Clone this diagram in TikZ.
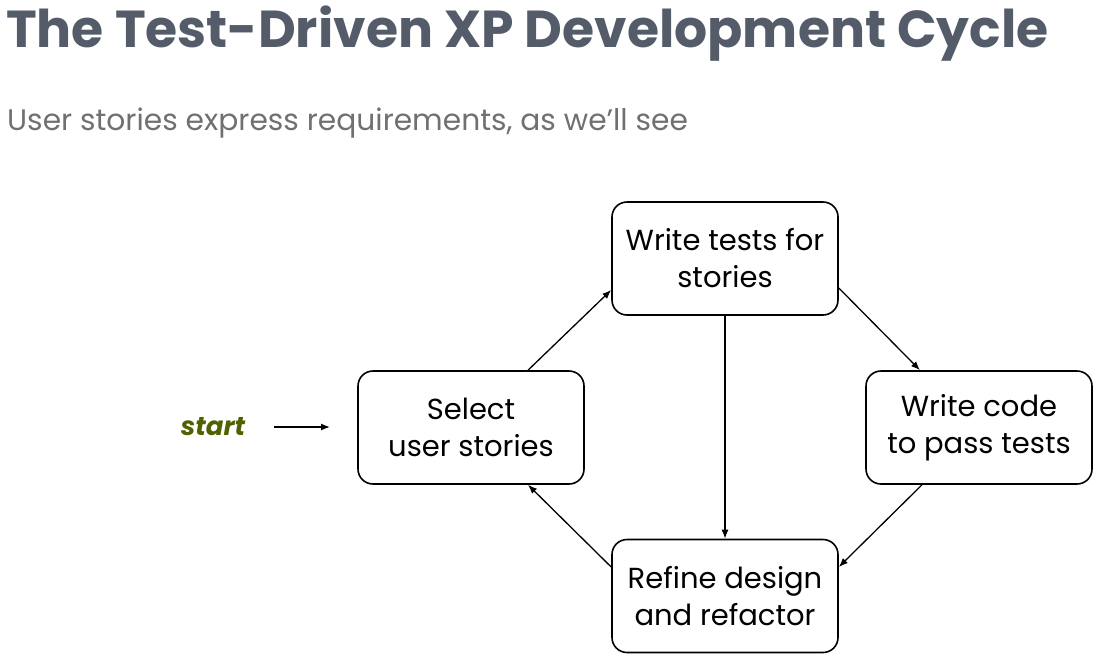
\documentclass[tikz,border=0pt]{standalone}
\usepackage{fontspec}
\setmainfont{Poppins}
\usetikzlibrary{arrows.meta,calc}
\definecolor{titlecol}{RGB}{83,92,104}
\definecolor{subcol}{RGB}{112,112,112}
\definecolor{startcol}{RGB}{79,98,0}
\begin{document}
\begin{tikzpicture}[x=1pt,y=-1pt,
  box/.style={draw, line width=1.6pt, rounded corners=15pt, minimum width=226pt, minimum height=113pt, align=center, inner sep=0pt, font=\fontsize{29}{37}\selectfont},
  arr/.style={-{Latex[length=9pt,width=7pt]}, line width=1.3pt}]
\useasboundingbox (0,0) rectangle (1097,659);
\node[anchor=base west, inner sep=0pt, text=titlecol, font=\fontsize{52}{60}\selectfont\bfseries] (title) at (6,47) {The Test-Driven XP Development Cycle};
\node[anchor=base west, inner sep=0pt, text=subcol, font=\fontsize{29.7}{32}\selectfont] (sub) at (7,130) {User stories express requirements, as we’ll see};
\node[box] (top) at (725,258.5) {Write tests for\\stories};
\node[box] (left) at (471,427.5) {Select\\user stories};
\node[box] (right) at (979,427.5) {Write code\\to pass tests};
\node[box] (bottom) at (725,596) {Refine design\\and refactor};
\node[inner sep=0pt, text=startcol, font=\fontsize{26}{30}\selectfont\bfseries\itshape] (start) at (213,427) {start};
\coordinate (sEnd) at (330,427);
\draw[arr] ([xshift=29pt]start.east) -- (sEnd);
\draw[arr] ([xshift=57pt]left.north) -- ([yshift=-31.5pt]top.west);
\draw[arr] ([yshift=-29.5pt]top.east) -- ([xshift=-59pt]right.north);
\draw[arr] ([xshift=-57pt]right.south) -- ([yshift=29pt]bottom.east);
\draw[arr] ([yshift=29pt]bottom.west) -- ([xshift=57pt]left.south);
\draw[arr] (top.south) -- (bottom.north);
\end{tikzpicture}
\end{document}
